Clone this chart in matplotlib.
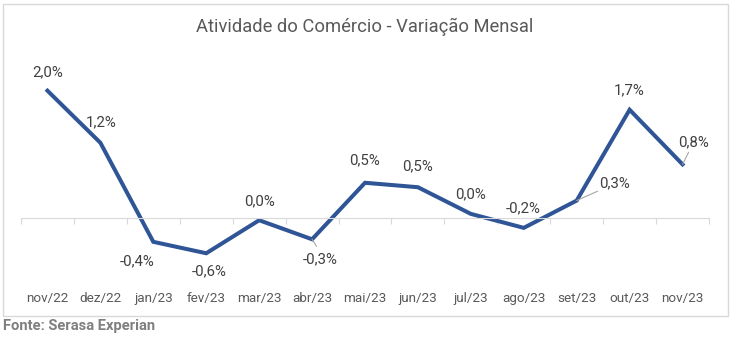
import matplotlib
matplotlib.use("Agg")
import matplotlib.pyplot as plt
import matplotlib.transforms as mtransforms
from matplotlib.patches import Rectangle

plt.rcParams['font.family'] = ['Roboto', 'DejaVu Sans']

# data
meses = ['nov/22', 'dez/22', 'jan/23', 'fev/23', 'mar/23', 'abr/23', 'mai/23',
         'jun/23', 'jul/23', 'ago/23', 'set/23', 'out/23', 'nov/23']
variacao = [2.0, 1.18, -0.38, -0.56, -0.04, -0.34, 0.55, 0.48, 0.06, -0.16, 0.27, 1.70, 0.84]
rotulos = ['2,0%', '1,2%', '-0,4%', '-0,6%', '0,0%', '-0,3%', '0,5%',
           '0,5%', '0,0%', '-0,2%', '0,3%', '1,7%', '0,8%']

# label offsets in pixels (dx, dy) and whether a leader line is drawn
offsets = [(0, 18), (1, 20), (-16, -19), (3, -18), (0, 19), (8, -20), (0, 22),
           (0, 21), (0, 20), (-1, 20), (38, 17), (0, 19), (11, 22)]
leader = [False, False, False, False, False, True, False,
          False, False, False, True, False, True]

W, H = 730, 337
fig = plt.figure(figsize=(W / 100, H / 100), dpi=100)

# outer border
fig.patches.append(Rectangle((3 / W, 1 - 316 / H), 725 / W, 312 / H,
                             transform=fig.transFigure, fill=False,
                             edgecolor='#D9D9D9', linewidth=1))

ax = fig.add_axes([21 / W, (H - 281.2) / H, 688 / W, 222.25 / H])
x = list(range(len(meses)))
ax.plot(x, variacao, color='#2F5597', linewidth=2.9, solid_joinstyle='miter')
ax.set_xlim(-0.5, len(meses) - 0.5)
ax.set_ylim(-1.0, 2.5)

for s in ['top', 'right', 'left']:
    ax.spines[s].set_visible(False)
ax.spines['bottom'].set_position(('data', 0))
ax.spines['bottom'].set_color('#D9D9D9')
ax.set_yticks([])
ax.set_xticks([i - 0.5 for i in range(len(meses) + 1)])
ax.set_xticklabels([])
ax.tick_params(axis='x', length=4, color='#D9D9D9', direction='out')

trans = mtransforms.blended_transform_factory(ax.transData, ax.transAxes)
for i, m in enumerate(meses):
    ax.text(i, -0.0756, m, transform=trans, ha='center', va='center',
            fontsize=9.7, color='#595959')

for i, (v, lab) in enumerate(zip(variacao, rotulos)):
    dx, dy = offsets[i]
    ax.annotate(lab, (i, v), xytext=(dx, dy), textcoords='offset pixels',
                ha='center', va='center', fontsize=10.8, color='#404040')
    if leader[i]:
        ax.annotate('', (i, v), xytext=(dx * 0.55, dy * 0.55 if dy > 0 else dy * 0.35),
                    textcoords='offset pixels',
                    arrowprops=dict(arrowstyle='-', color='#A6A6A6', lw=0.8,
                                    shrinkA=0, shrinkB=0))

fig.text(0.5, 1 - 27 / H, 'Atividade do Comércio - Variação Mensal',
         ha='center', va='center', fontsize=13.2, color='#595959')
fig.text(3 / W, 1 - 326 / H, 'Fonte: Serasa Experian', ha='left', va='center',
         fontsize=10.6, fontweight='bold', color='#7F7F7F')

fig.savefig('out.png', dpi=100)
